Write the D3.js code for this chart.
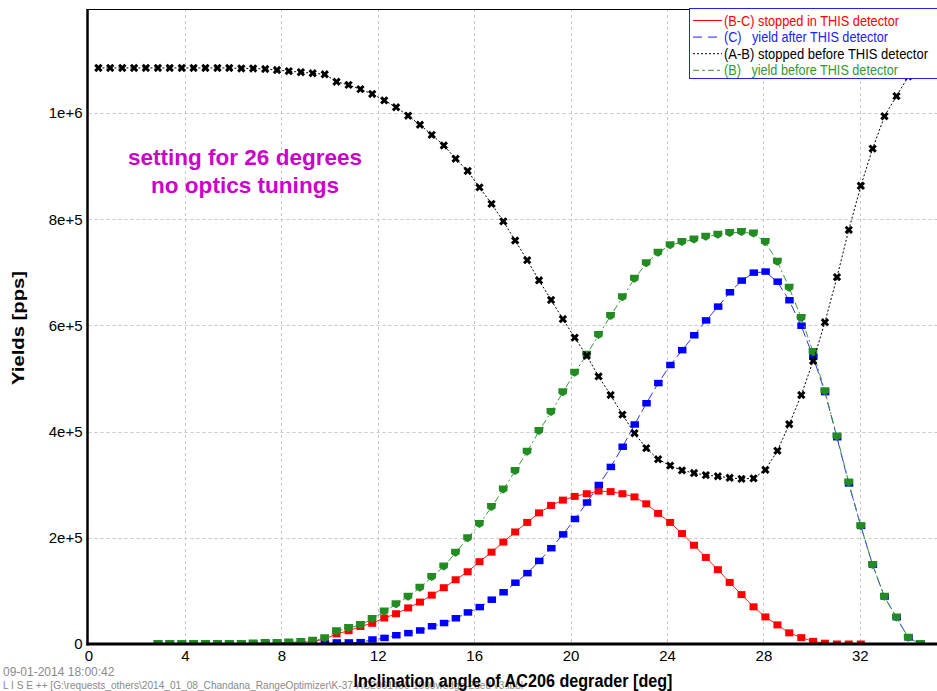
<!DOCTYPE html>
<html>
<head>
<meta charset="utf-8">
<script src="https://cdn.jsdelivr.net/npm/d3@7"></script>
<style>
  html, body { margin: 0; padding: 0; background: #fff; }
  svg { display: block; font-family: Arial, "Liberation Sans", sans-serif; }
</style>
</head>
<body>
<svg id="chart" width="937" height="691"></svg>
<script>
// Inclination angles of the AC206 degrader [deg]
const angles = [0.41, 0.90, 1.40, 1.89, 2.38, 2.88, 3.37, 3.87, 4.36, 4.85, 5.35, 5.84, 6.34, 6.83, 7.33, 7.82,
  8.31, 8.81, 9.30, 9.80, 10.29, 10.79, 11.28, 11.77, 12.27, 12.76, 13.26, 13.75, 14.24, 14.74, 15.23, 15.73,
  16.22, 16.72, 17.21, 17.70, 18.20, 18.69, 19.19, 19.68, 20.17, 20.67, 21.16, 21.66, 22.15, 22.65, 23.14, 23.63,
  24.13, 24.62, 25.12, 25.61, 26.11, 26.60, 27.09, 27.59, 28.08, 28.58, 29.07, 29.57, 30.06, 30.55, 31.05, 31.54,
  32.04, 32.53, 33.02, 33.52, 34.01, 34.51, 35.00];

// (B-C) stopped in THIS detector [pps]
const stoppedIn = [null, null, null, null, null, 0, 0, 0, 0, 0, 0, 0, 0, 0, 1000, 1000,
  2500, 3000, 5000, 9000, 19000, 25000, 33000, 39000, 49000, 57000, 68000, 79000, 92000, 106000, 121000, 136000,
  155000, 173000, 192000, 211000, 229000, 247000, 261000, 271000, 278000, 283000, 288000, 287000, 283000, 277000, 264000, 246000,
  229000, 208000, 186000, 163000, 140000, 116000, 93000, 70000, 51000, 36000, 21000, 12000, 5000, 1500, 0, 0,
  0, null, null, null, null, null, null];

// (C) yield after THIS detector [pps]
const yieldAfter = [null, null, null, null, null, 0, 0, 0, 0, 0, 0, 0, 0, 0, 0, 0,
  0, 0, 0, 0, 2500, 2500, 3000, 8000, 11000, 16000, 20000, 25000, 33000, 39000, 48000, 59000,
  69000, 83000, 97000, 115000, 133000, 156000, 180000, 206000, 235000, 266000, 299000, 333000, 371000, 413000, 453000, 491000,
  525000, 553000, 581000, 609000, 635000, 662000, 684000, 699000, 701000, 682000, 647000, 599000, 541000, 474000, 389000, 302000,
  222000, 149000, 89000, 50000, 12000, 0, null];

// (A-B) stopped before THIS detector [pps]
const stoppedBefore = [1085000, 1085000, 1085000, 1085000, 1085000, 1085000, 1085000, 1085000, 1085000, 1085000, 1085000, 1085000, 1084000, 1084000, 1083000, 1081000,
  1079000, 1077000, 1075000, 1073000, 1059000, 1053000, 1045000, 1036000, 1024000, 1011000, 995000, 978000, 959000, 939000, 914000, 891000,
  860000, 829000, 796000, 760000, 723000, 685000, 648000, 612000, 577000, 543000, 504000, 469000, 432000, 397000, 369000, 348000,
  336000, 327000, 322000, 318000, 316000, 313000, 311000, 312000, 328000, 364000, 414000, 469000, 533000, 606000, 691000, 780000,
  863000, 933000, 994000, 1032000, 1069000, 1082000, 1085000];

// (B) yield before THIS detector [pps]
const yieldBefore = [null, null, null, null, null, 0, 0, 0, 0, 0, 0, 0, 0, 1000, 2000, 2000,
  3000, 4000, 6000, 11000, 24000, 30000, 36000, 47000, 61000, 75000, 89000, 106000, 126000, 146000, 172000, 199000,
  226000, 258000, 291000, 326000, 362000, 401000, 437000, 474000, 511000, 545000, 582000, 618000, 653000, 688000, 717000, 737000,
  751000, 757000, 762000, 767000, 771000, 774000, 776000, 773000, 757000, 720000, 671000, 614000, 550000, 476000, 391000, 304000,
  222000, 149000, 89000, 50000, 12000, 0, null];

const xTicks = [0, 4, 8, 12, 16, 20, 24, 28, 32];
const yTicks = [0, 200000, 400000, 600000, 800000, 1000000];
const yTickLabels = ["0", "2e+5", "4e+5", "6e+5", "8e+5", "1e+6"];

const legendLabels = [
  "(B-C) stopped in THIS detector",
  "(C)   yield after THIS detector",
  "(A-B) stopped before THIS detector",
  "(B)   yield before THIS detector"
];
const noteLines = ["setting for 26 degrees", "no optics tunings"];
const stampText = "09-01-2014  18:00:42";
const fileText = "L I S E ++  [G:\\requests_others\\2014_01_08_Chandana_RangeOptimizer\\K-37-AC2061450-1000wedge-2ded v3.lbbl";

const svg = d3.select("#chart");
const plot = { left: 88.5, right: 937, top: 9, bottom: 644 };

const x = d3.scaleLinear().domain([0, 35.2]).range([plot.left, plot.right]);
const y = d3.scaleLinear().domain([0, 1196000]).range([plot.bottom, plot.top]);

// footer stamps (drawn first so the axis title sits over them)
svg.append("text").attr("x", 3).attr("y", 675.5).attr("fill", "#8a8a8a")
  .style("font-size", "12px").text(stampText);
svg.append("text").attr("x", 3).attr("y", 689).attr("fill", "#8a8a8a")
  .style("font-size", "11px").attr("textLength", 520).attr("lengthAdjust", "spacingAndGlyphs").text(fileText);

// grid
const grid = svg.append("g").attr("stroke", "#c8c8c8").attr("stroke-dasharray", "3,3").attr("stroke-width", 1);
xTicks.filter(t => t > 0).forEach(t => {
  grid.append("line").attr("x1", Math.round(x(t)) + 0.5).attr("x2", Math.round(x(t)) + 0.5)
    .attr("y1", plot.top).attr("y2", plot.bottom);
});
yTicks.filter(t => t > 0).forEach(t => {
  grid.append("line").attr("y1", Math.round(y(t)) + 0.5).attr("y2", Math.round(y(t)) + 0.5)
    .attr("x1", plot.left).attr("x2", plot.right);
});

// top frame line
svg.append("line").attr("x1", plot.left).attr("x2", plot.right).attr("y1", plot.top + 0.5).attr("y2", plot.top + 0.5)
  .attr("stroke", "#000").attr("stroke-width", 1);

// axes
const xAxis = d3.axisBottom(x).tickValues(xTicks).tickSize(0).tickPadding(6).tickFormat(d3.format("d"));
const gx = svg.append("g").attr("transform", `translate(0,${plot.bottom})`).call(xAxis);
gx.select(".domain").remove();
gx.selectAll("text").style("font-size", "15px").attr("fill", "#000").attr("font-family", "Arial, 'Liberation Sans', sans-serif");

const yAxis = d3.axisLeft(y).tickValues(yTicks).tickSize(0).tickPadding(6)
  .tickFormat((d, i) => yTickLabels[i]);
const gy = svg.append("g").attr("transform", `translate(${plot.left},0)`).call(yAxis);
gy.select(".domain").remove();
gy.selectAll("text").style("font-size", "15px").attr("fill", "#000").attr("font-family", "Arial, 'Liberation Sans', sans-serif");

// clip for the data
svg.append("clipPath").attr("id", "plotClip").append("rect")
  .attr("x", plot.left).attr("y", plot.top).attr("width", plot.right - plot.left).attr("height", plot.bottom - plot.top);

const series = [
  { values: stoppedIn, color: "#ff0000", line: "#ff2020", dash: null, marker: "square" },
  { values: yieldAfter, color: "#0000ff", line: "#3030ff", dash: "9,4", marker: "rect" },
  { values: yieldBefore, color: "#228b22", line: "#3a9a3a", dash: "7,3,2,3", marker: "flag" },
  { values: stoppedBefore, color: "#000000", line: "#000000", dash: "2,2", marker: "cross" }
];

const dataLayer = svg.append("g").attr("clip-path", "url(#plotClip)");
const lineGen = d3.line().defined(d => d[1] != null).x(d => x(d[0])).y(d => y(d[1]));

const crossPath = d3.symbol(d3.symbolCross, 44)();
const flagPath = "M-4.5,-4 L4.5,-4 L4,1.5 L0,4 L-4.5,1.5 Z";

series.forEach(s => {
  const pts = angles.map((a, i) => [a, s.values[i]]);
  dataLayer.append("path").attr("d", lineGen(pts)).attr("fill", "none")
    .attr("stroke", s.line).attr("stroke-width", 1)
    .attr("stroke-dasharray", s.dash);
  const mk = dataLayer.append("g").selectAll("path").data(pts.filter(d => d[1] != null)).join("path")
    .attr("fill", s.color)
    .attr("transform", d => {
      const rot = s.marker === "cross" ? " rotate(45)" : "";
      return `translate(${x(d[0])},${y(d[1])})${rot}`;
    });
  if (s.marker === "square") mk.attr("d", "M-4,-3.5 H4 V3.5 H-4 Z");
  else if (s.marker === "rect") mk.attr("d", "M-4,-3.5 H4.5 V3 H-4 Z");
  else if (s.marker === "flag") mk.attr("d", flagPath);
  else mk.attr("d", crossPath);
});

// axis lines on top
svg.append("line").attr("x1", plot.left - 1).attr("x2", plot.left - 1).attr("y1", plot.top).attr("y2", plot.bottom + 1.5)
  .attr("stroke", "#000").attr("stroke-width", 2.5);
svg.append("line").attr("x1", plot.left - 2).attr("x2", plot.right).attr("y1", plot.bottom).attr("y2", plot.bottom)
  .attr("stroke", "#000").attr("stroke-width", 3);

// annotation
const noteWidths = [234, 188];
const note = svg.append("g").attr("fill", "#cc00cc").style("font-size", "22px").style("font-weight", "bold");
noteLines.forEach((t, i) => {
  note.append("text").attr("x", 245).attr("y", 165 + i * 28).attr("text-anchor", "middle")
    .attr("textLength", noteWidths[i]).attr("lengthAdjust", "spacingAndGlyphs").text(t);
});

// axis titles
svg.append("text").attr("transform", "translate(24,328) rotate(-90)").attr("text-anchor", "middle")
  .style("font-size", "17px").style("font-weight", "bold")
  .attr("textLength", 114).attr("lengthAdjust", "spacingAndGlyphs").text("Yields [pps]");
svg.append("text").attr("x", 513).attr("y", 687).attr("text-anchor", "middle")
  .style("font-size", "18px").style("font-weight", "bold")
  .attr("textLength", 319).attr("lengthAdjust", "spacingAndGlyphs").text("Inclination angle of AC206 degrader [deg]");

// legend
const lg = svg.append("g");
lg.append("rect").attr("x", 689.5).attr("y", 8.5).attr("width", 260).attr("height", 70)
  .attr("fill", "#fff").attr("stroke", "#2020ff").attr("stroke-width", 1);
const legendColors = ["#ff0000", "#2020ff", "#000000", "#339933"];
const legendDash = [null, "9,6", "2,2", "6,3,3,3"];
const legendWidths = [175, 164, 204, 174];
legendLabels.forEach((t, i) => {
  const yy = 20.5 + i * 16.6;
  lg.append("line").attr("x1", 693).attr("x2", 722).attr("y1", yy).attr("y2", yy)
    .attr("stroke", legendColors[i]).attr("stroke-width", 1).attr("stroke-dasharray", legendDash[i]);
  lg.append("text").attr("x", 724).attr("y", yy + 5).attr("fill", legendColors[i])
    .style("font-size", "14px").attr("xml:space", "preserve")
    .attr("textLength", legendWidths[i]).attr("lengthAdjust", "spacingAndGlyphs").text(t);
});
</script>
</body>
</html>
